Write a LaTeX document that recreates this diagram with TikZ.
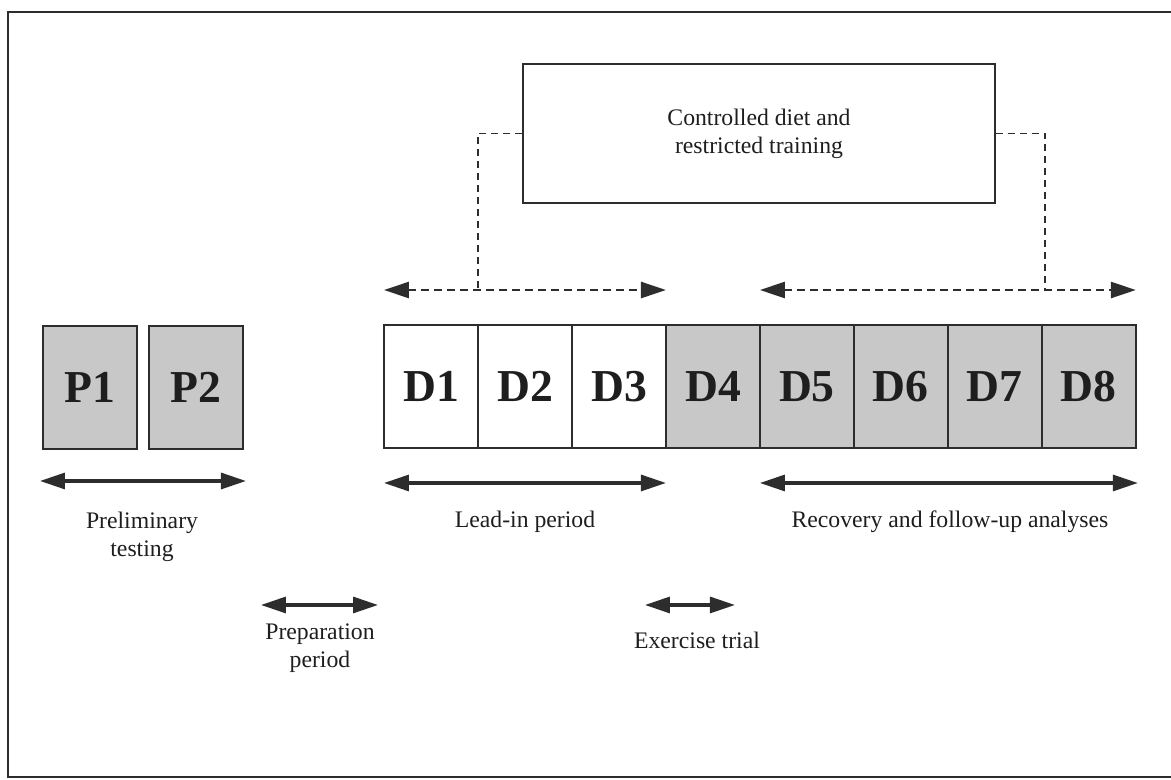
\documentclass[tikz,border=0pt]{standalone}
\usepackage{fontspec}
\setmainfont{Liberation Serif}
\usetikzlibrary{arrows.meta}
\usetikzlibrary{calc}
\usetikzlibrary{positioning}

\begin{document}
\begin{tikzpicture}[x=0.02cm, y=-0.02cm, >={Triangle[length=0.5cm, width=0.32cm]}]

	\definecolor{cellG}{RGB}{200,200,200}
	\definecolor{lineD}{RGB}{45,45,45}
	\definecolor{textD}{RGB}{30,30,30}

	\tikzset{
		day/.style={draw=lineD, line width=1.1pt, minimum width=1.88cm, minimum height=2.46cm,
			inner sep=0pt, outer sep=0pt, text=textD, font=\fontsize{26}{30}\selectfont\bfseries},
		dayG/.style={day, fill=cellG},
		span/.style={<->, line width=1.8pt, draw=lineD},
		dspan/.style={<->, line width=1.5pt, draw=lineD, dash pattern=on 0.16cm off 0.1cm},
		dlink/.style={line width=0.9pt, draw=lineD, dash pattern=on 0.14cm off 0.1cm},
		lab/.style={align=center, text=textD, font=\fontsize{13.5}{16}\selectfont},
	}

	\useasboundingbox (0,0) rectangle (1171,779);

	% --- frame (right side cut off)
	\draw[line width=1.3pt, lineD] (1180,12) -- (8,12) -- (8,777) -- (1180,777);

	% --- preliminary days
	\node[dayG, anchor=north west] (p1) at (43,326) {P1};
	\node[dayG, right=0.24cm of p1] (p2) {P2};

	% --- study days
	\node[day, anchor=north west] (d1) at (384,325) {D1};
	\node[day, right=0pt of d1] (d2) {D2};
	\node[day, right=0pt of d2] (d3) {D3};
	\node[dayG, right=0pt of d3] (d4) {D4};
	\node[dayG, right=0pt of d4] (d5) {D5};
	\node[dayG, right=0pt of d5] (d6) {D6};
	\node[dayG, right=0pt of d6] (d7) {D7};
	\node[dayG, right=0pt of d7] (d8) {D8};

	% --- diet box with dashed links
	\node[draw=lineD, line width=1.1pt, minimum width=9.44cm, minimum height=2.78cm, lab] (diet) at (759,133.5)
		{Controlled diet and\\restricted training};

	\coordinate (leadJ) at (478,290);
	\coordinate (recJ) at (1045,290);
	\draw[dlink] (diet.west) -| (leadJ);
	\draw[dlink] (diet.east) -| (recJ);

	\draw[dspan] ($(d1.north west)+(0,-35)$) -- ($(d3.north east)+(0,-35)$);
	\draw[dspan] ($(d5.north west)+(0,-35)$) -- ($(d8.north east)+(0,-35)$);

	% --- periods below
	\draw[span] ($(p1.south west)+(-3,32)$) -- ($(p2.south east)+(3,32)$);
	\draw[span] ($(d1.south west)+(0,35)$) -- ($(d3.south east)+(0,35)$);
	\draw[span] ($(d5.south west)+(0,35)$) -- ($(d8.south east)+(2,35)$);
	\draw[span] ($(p2.south east)+(18,156)$) -- ($(d1.south west)+(-6,157)$);
	\draw[span] ($(d4.south west)+(-21,157)$) -- ($(d4.south east)+(-25,157)$);

	\node[lab] (prelim) at (142,537) {Preliminary\\testing};
	\node[lab] (leadin) at (525,522) {Lead-in period};
	\node[lab] (recov) at (950,522) {Recovery and follow-up analyses};
	\node[lab] (prep) at (320,648) {Preparation\\period};
	\node[lab] (exer) at (697,640) {Exercise trial};

\end{tikzpicture}
\end{document}
